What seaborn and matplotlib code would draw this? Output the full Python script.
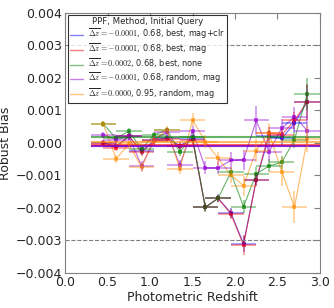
import numpy as np
import pandas as pd
import matplotlib
matplotlib.use("Agg")
import matplotlib.pyplot as plt
import seaborn as sns

x_bins = [0.45, 0.60, 0.75, 0.90, 1.05, 1.20, 1.35, 1.50, 1.65, 1.80, 1.95, 2.10, 2.25, 2.40, 2.55, 2.70, 2.85]
x_half = 0.15

bias_clr = [0.00000, -0.00010, 0.00020, -0.00025, 0.00008, 0.00015, -0.00008, 0.00012, -0.00198, -0.00170, -0.00215, -0.00310, -0.00114, 0.00020, 0.00014, 0.00060, 0.00127]
bias_mag = [0.00000, -0.00016, 0.00022, -0.00029, 0.00005, 0.00012, -0.00011, 0.00010, -0.00198, -0.00171, -0.00218, -0.00314, -0.00114, 0.00030, 0.00025, 0.00069, 0.00127]
bias_none = [0.00058, 0.00014, 0.00036, -0.00019, 0.00025, 0.00040, -0.00027, 0.00017, -0.00198, -0.00171, -0.00091, -0.00196, -0.00095, -0.00071, -0.00060, 0.00010, 0.00150]
bias_rand = [0.00025, 0.00010, 0.00020, -0.00071, 0.00010, 0.00033, -0.00068, 0.00038, -0.00077, -0.00077, -0.00054, -0.00052, 0.00069, -0.00027, 0.00045, 0.00081, 0.00038]
bias_r95 = [0.00058, -0.00049, -0.00004, -0.00075, 0.00010, 0.00040, -0.00081, 0.00071, 0.00004, -0.00047, -0.00098, -0.00132, -0.00024, 0.00030, -0.00088, -0.00198, 0.00011]

err_clr = [0.00008, 0.00010, 0.00010, 0.00012, 0.00010, 0.00010, 0.00012, 0.00012, 0.00012, 0.00012, 0.00015, 0.00025, 0.00020, 0.00020, 0.00020, 0.00025, 0.00050]
err_mag = [0.00008, 0.00010, 0.00010, 0.00012, 0.00010, 0.00010, 0.00012, 0.00012, 0.00012, 0.00012, 0.00015, 0.00030, 0.00020, 0.00020, 0.00020, 0.00025, 0.00055]
err_none = [0.00008, 0.00010, 0.00010, 0.00012, 0.00010, 0.00010, 0.00012, 0.00012, 0.00015, 0.00012, 0.00015, 0.00020, 0.00020, 0.00020, 0.00020, 0.00025, 0.00050]
err_rand = [0.00010, 0.00012, 0.00012, 0.00015, 0.00012, 0.00012, 0.00015, 0.00015, 0.00020, 0.00020, 0.00025, 0.00030, 0.00045, 0.00030, 0.00030, 0.00030, 0.00040]
err_r95 = [0.00010, 0.00012, 0.00012, 0.00015, 0.00012, 0.00012, 0.00015, 0.00020, 0.00020, 0.00020, 0.00025, 0.00030, 0.00035, 0.00030, 0.00045, 0.00050, 0.00040]

mean_bias = [-0.00008, -0.00006, 0.00017, -0.00010, 0.00004]
labels = [r"$\overline{\Delta z}=-0.0001$, 0.68, best, mag+clr",
          r"$\overline{\Delta z}=-0.0001$, 0.68, best, mag",
          r"$\overline{\Delta z}=0.0002$, 0.68, best, none",
          r"$\overline{\Delta z}=-0.0001$, 0.68, random, mag",
          r"$\overline{\Delta z}=0.0000$, 0.95, random, mag"]
colors = ["#0000ff", "#ff0000", "#008000", "#9400d3", "#ff8c00"]

biases = [bias_clr, bias_mag, bias_none, bias_rand, bias_r95]
errs = [err_clr, err_mag, err_none, err_rand, err_r95]

sns.set_style("white")
plt.rcParams["mathtext.fontset"] = "cm"
plt.rcParams["font.family"] = ["DejaVu Sans"]

fig = plt.figure(figsize=(3.34, 3.08), dpi=100)
ax = fig.add_axes([0.195, 0.114, 0.763, 0.844])

rows = []
for lab, b in zip(labels, biases):
    for xv, yv in zip(x_bins, b):
        rows.append({"z": xv, "bias": yv, "series": lab})
df = pd.DataFrame(rows)

sns.lineplot(data=df, x="z", y="bias", hue="series", palette=colors, hue_order=labels,
             marker="s", markersize=3, markeredgewidth=0, linewidth=0.8, alpha=0.6,
             estimator=None, ax=ax, legend=False)

for b, e, c, m in zip(biases, errs, colors, mean_bias):
    ax.errorbar(x_bins, b, xerr=x_half, yerr=e, fmt="none", ecolor=c, elinewidth=1.3, alpha=0.4)
    ax.hlines(m, 0.3, 3.0, colors=c, linewidth=1.5, alpha=0.6)

ax.axhline(0.003, color="grey", ls="--", lw=0.8)
ax.axhline(-0.003, color="grey", ls="--", lw=0.8)

handles = [plt.Line2D([], [], color=c, lw=1.0, alpha=0.5) for c in colors]
leg = ax.legend(handles, labels, title="PPF, Method, Initial Query", loc="upper left",
                fontsize=5.9, title_fontsize=6.2, frameon=True, fancybox=False,
                borderpad=0.25, labelspacing=0.12, handlelength=1.6, handletextpad=0.6,
                borderaxespad=0.3)
leg.get_frame().set_edgecolor("black")
leg.get_frame().set_linewidth(0.8)

ax.set_xlim(0, 3.0)
ax.set_ylim(-0.004, 0.004)
ax.set_xticks([0.0, 0.5, 1.0, 1.5, 2.0, 2.5, 3.0])
ax.set_yticks([-0.004, -0.003, -0.002, -0.001, 0.0, 0.001, 0.002, 0.003, 0.004])
ax.set_yticklabels([f"{v:.3f}".replace("-", "\u2212") for v in [-0.004, -0.003, -0.002, -0.001, 0.0, 0.001, 0.002, 0.003, 0.004]])
ax.set_xticklabels([f"{v:.1f}" for v in [0.0, 0.5, 1.0, 1.5, 2.0, 2.5, 3.0]])
ax.tick_params(direction="in", top=True, right=True, labelsize=9, length=4, color="grey", pad=2)
for s in ax.spines.values():
    s.set_color("grey")
    s.set_linewidth(0.8)
ax.set_xlabel("Photometric Redshift", fontsize=9, labelpad=2)
ax.set_ylabel("Robust Bias", fontsize=9, labelpad=3)

fig.savefig("out.png", dpi=100)
